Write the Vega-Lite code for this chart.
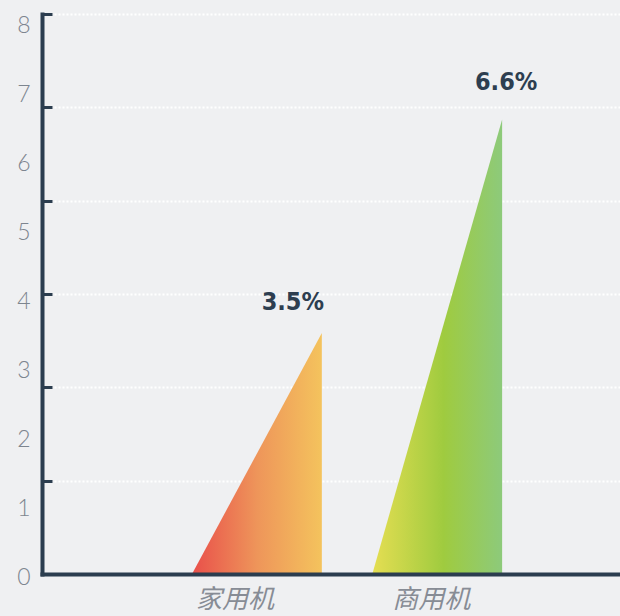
{
  "$schema": "https://vega.github.io/schema/vega-lite/v6.json",
  "autosize": {"type": "none"},
  "padding": {"left": 42, "top": 14, "right": 0, "bottom": 42},
  "width": 578,
  "height": 560,
  "background": "#eff0f2",
  "config": {"view": {"stroke": null}},
  "data": {
    "values": [
      {"item": "家用机", "base": 0, "pct": 3.5},
      {"item": "商用机", "base": 0, "pct": 6.6}
    ]
  },
  "resolve": {"axis": {"y": "independent"}},
  "layer": [
    {
      "transform": [
        {"filter": "datum.item === '家用机'"},
        {"fold": ["base", "pct"], "as": ["corner", "level"]}
      ],
      "mark": {
        "type": "area",
        "line": false,
        "color": {
          "gradient": "linear", "x1": 0, "y1": 0, "x2": 1, "y2": 0,
          "stops": [
            {"offset": 0, "color": "#e94f4a"},
            {"offset": 0.5, "color": "#ee955a"},
            {"offset": 1, "color": "#f4c35d"}
          ]
        }
      },
      "encoding": {
        "x": {
          "field": "item", "type": "nominal", "sort": ["家用机", "商用机"],
          "scale": {"type": "band", "paddingInner": 0.28, "paddingOuter": 0.743, "align": 0.56},
          "axis": {
            "title": null, "labelAngle": 0, "ticks": false, "zindex": 1,
            "domainColor": "#2b3d4f", "domainWidth": 4, "domainCap": "square",
            "labelFont": "Noto Sans CJK SC", "labelFontStyle": "italic", "labelFontSize": 26,
            "labelColor": "#878c95", "labelPadding": 12,
            "labelOffset": {"expr": "datum.value === '家用机' ? -22 : -6"}
          }
        },
        "xOffset": {"field": "corner", "type": "nominal", "sort": ["base", "pct"], "scale": {"type": "point", "padding": 0}},
        "y": {
          "field": "level", "type": "quantitative",
          "scale": {"domain": [0, 8.13], "nice": false, "zero": true},
          "axis": {
            "title": null, "orient": "left", "values": [0, 1, 2, 3, 4, 5, 6, 7, 8],
            "domain": false, "ticks": false, "grid": false,
            "labelFont": "Lato", "labelFontWeight": 300, "labelFontSize": 23,
            "labelColor": "#7d858f", "labelPadding": 12, "labelOffset": 3, "zindex": 1
          }
        }
      }
    },
    {
      "transform": [
        {"filter": "datum.item === '商用机'"},
        {"fold": ["base", "pct"], "as": ["corner", "level"]}
      ],
      "mark": {
        "type": "area",
        "line": false,
        "color": {
          "gradient": "linear", "x1": 0, "y1": 0, "x2": 1, "y2": 0,
          "stops": [
            {"offset": 0, "color": "#e5de52"},
            {"offset": 0.55, "color": "#9fcb3f"},
            {"offset": 1, "color": "#8dca7b"}
          ]
        }
      },
      "encoding": {
        "x": {"field": "item", "type": "nominal", "sort": ["家用机", "商用机"]},
        "xOffset": {"field": "corner", "type": "nominal", "sort": ["base", "pct"], "scale": {"type": "point", "padding": 0}},
        "y": {
          "field": "level", "type": "quantitative",
          "axis": {
            "title": null, "orient": "left", "values": [1.355, 2.71, 4.065, 5.42, 6.775, 8.13],
            "labels": false, "domain": true, "domainColor": "#2b3d4f", "domainWidth": 4, "domainCap": "square",
            "ticks": true, "tickSize": -10, "tickColor": "#2b3d4f", "tickWidth": 3,
            "grid": true, "gridColor": "#ffffff", "gridDash": [2, 2], "gridWidth": 2, "zindex": 0
          }
        }
      }
    },
    {
      "transform": [
        {"filter": "datum.item === '家用机'"},
        {"calculate": "format(datum.pct, '.1f') + '%'", "as": "label"}
      ],
      "mark": {
        "type": "text", "font": "DejaVu Sans Condensed", "fontWeight": "bold", "fontSize": 25,
        "color": "#2d3e50", "baseline": "middle", "align": "center", "dx": -29, "dy": -31
      },
      "encoding": {
        "x": {"field": "item", "type": "nominal", "sort": ["家用机", "商用机"], "bandPosition": 1},
        "y": {"field": "pct", "type": "quantitative", "axis": null},
        "text": {"field": "label"}
      }
    },
    {
      "transform": [
        {"filter": "datum.item === '商用机'"},
        {"calculate": "format(datum.pct, '.1f') + '%'", "as": "label"}
      ],
      "mark": {
        "type": "text", "font": "DejaVu Sans Condensed", "fontWeight": "bold", "fontSize": 25,
        "color": "#2d3e50", "baseline": "middle", "align": "center", "dx": 4, "dy": -37
      },
      "encoding": {
        "x": {"field": "item", "type": "nominal", "sort": ["家用机", "商用机"], "bandPosition": 1},
        "y": {"field": "pct", "type": "quantitative", "axis": null},
        "text": {"field": "label"}
      }
    }
  ]
}
